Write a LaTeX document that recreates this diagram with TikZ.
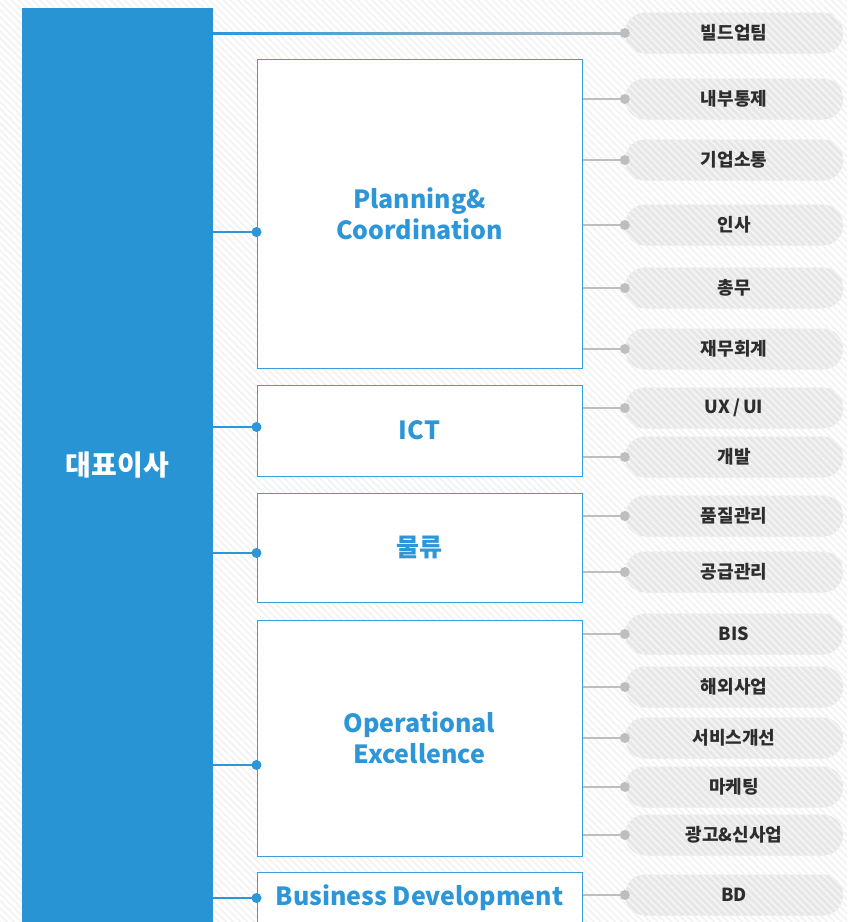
\documentclass[tikz,border=0pt]{standalone}
\usepackage{fontspec}
\setmainfont{Noto Sans CJK KR}
\usetikzlibrary{patterns.meta,calc}
\definecolor{ceoblue}{RGB}{40,148,212}
\definecolor{boxblue}{RGB}{58,158,222}
\definecolor{lineblue}{RGB}{44,150,216}
\definecolor{lgray}{RGB}{190,190,190}
\definecolor{pillgray}{RGB}{231,231,231}
\definecolor{txtdark}{RGB}{45,45,45}
\begin{document}
\begin{tikzpicture}[x=1pt,y=-1pt,
  ceo/.style={fill=ceoblue,text=white,minimum width=191,minimum height=914,inner sep=0,
    font=\fontsize{28}{32}\selectfont\bfseries},
  unit/.style={draw=boxblue,line width=1,fill=white,minimum width=325,inner sep=0,
    align=center,text=lineblue,font=\fontsize{25}{31}\selectfont\bfseries},
  pill/.style={rounded corners=20,minimum width=218,minimum height=41,inner sep=0,
    preaction={fill=pillgray},pattern={Lines[angle=-45,distance=5,line width=1.6]},
    pattern color=white!96!black,text=txtdark,font=\fontsize{18}{20}\selectfont\bfseries},
  bline/.style={draw=lineblue,line width=2},
  gline/.style={draw=lgray,line width=2}]
  % background
  \fill[white] (0,0) rectangle (847,922);
  \fill[pattern={Lines[angle=-45,distance=5,line width=1.6]},pattern color=black!5] (0,0) rectangle (847,922);
  \useasboundingbox (0,0) rectangle (847,922);

  \node[ceo] (ceo) at (117.5,465) {대표이사};

  \node[unit,minimum height=309] (pc) at (419.5,213.5) {Planning\&\\Coordination};
  \node[unit,minimum height=91] (ict) at (419.5,430.5) {ICT};
  \node[unit,minimum height=109] (log) at (419.5,547.5) {물류};
  \node[unit,minimum height=236] (oe) at (419.5,738) {Operational\\Excellence};
  \node[unit,minimum height=52] (bd) at (419.5,898) {Business Development};

  % from the ceo to each unit
  \foreach \u/\y in {pc/232,ict/427,log/553,oe/765,bd/898}{
    \coordinate (\u-in) at (\u.west|-0,\y);
    \draw[bline] (ceo.east|-\u-in) -- (\u-in);
    \fill[lineblue] (\u-in) circle (5);
  }

  % teams
  \node[pill] (b1) at (734,33) {빌드업팀};
  \shade[left color=lineblue,right color=lgray] ($(ceo.east|-b1)+(0,-1)$) rectangle ($(b1.west)+(0,1)$);
  \fill[lgray] (b1.west) circle (5);

  \foreach \t/\y/\txt/\from in {p1/99/내부통제/pc,p2/160/기업소통/pc,p3/225/인사/pc,
      p4/288/총무/pc,p5/349/재무회계/pc,i1/408/{UX\,/\,UI}/ict,i2/457/개발/ict,
      l1/516/품질관리/log,l2/572/공급관리/log,o1/634/BIS/oe,o2/687/해외사업/oe,
      o3/738/서비스개선/oe,o4/787/마케팅/oe,o5/835/광고\&신사업/oe,d1/895/BD/bd}{
    \node[pill] (\t) at (734,\y) {\txt};
    \draw[gline] (\from.east|-\t) -- (\t.west);
    \fill[lgray] (\t.west) circle (5);
  }
\end{tikzpicture}
\end{document}
